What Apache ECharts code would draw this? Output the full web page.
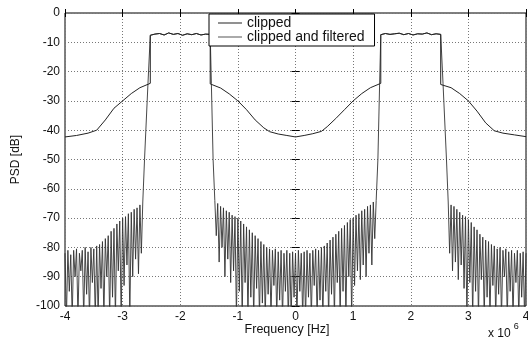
<!DOCTYPE html>
<html>
<head>
<meta charset="utf-8">
<script src="https://cdn.jsdelivr.net/npm/echarts@6/dist/echarts.min.js"></script>
<style>
  html, body { margin: 0; padding: 0; background: #fff; }
  #chart { width: 528px; height: 340px; }
</style>
</head>
<body>
<div id="chart"></div>
<script>
// tick labels
const xTicks = ['-4', '-3', '-2', '-1', '0', '1', '2', '3', '4'];
const yTicks = ['-100', '-90', '-80', '-70', '-60', '-50', '-40', '-30', '-20', '-10', '0'];

// in-band (shared by both curves), x in MHz, PSD in dB
const passLX = [-2.52, -2.44, -2.36, -2.28, -2.20, -2.12, -2.04, -1.96, -1.88, -1.80, -1.72, -1.64, -1.56, -1.48];
const passLY = [-7.6, -7.2, -7.0, -7.5, -6.8, -7.3, -7.0, -7.6, -7.1, -7.4, -7.0, -7.5, -7.2, -7.3];
const passRX = [1.48, 1.56, 1.64, 1.72, 1.80, 1.88, 1.96, 2.04, 2.12, 2.20, 2.28, 2.36, 2.44, 2.52];
const passRY = [-7.4, -7.0, -7.3, -7.1, -6.9, -7.4, -7.0, -7.5, -7.1, -7.2, -6.8, -7.4, -7.1, -7.3];

// clipped: out-of-band regrowth
const clipLX = [-4.0, -3.8, -3.6, -3.45, -3.3, -3.15, -3.0, -2.85, -2.7, -2.52];
const clipLY = [-42.3, -41.8, -41.0, -40.0, -36.5, -32.5, -30.0, -27.5, -25.5, -24.0];
const clipCX = [-1.48, -1.3, -1.15, -1.0, -0.85, -0.7, -0.55, -0.45, -0.3, -0.15, 0, 0.15, 0.3, 0.45, 0.55, 0.7, 0.85, 1.0, 1.15, 1.3, 1.48];
const clipCY = [-24.2, -25.6, -27.6, -30.0, -33.0, -36.5, -39.2, -40.5, -41.3, -41.8, -42.3, -41.8, -41.2, -40.4, -38.8, -36.0, -33.0, -30.0, -27.5, -25.5, -24.0];
const clipRX = [2.52, 2.7, 2.85, 3.0, 3.15, 3.3, 3.45, 3.6, 3.8, 4.0];
const clipRY = [-24.4, -25.5, -27.5, -30.0, -33.5, -37.5, -40.2, -41.0, -41.6, -42.2];

// clipped and filtered: skirts at the band edges
const skirtLLX = [-2.65, -2.62, -2.56];   const skirtLLY = [-64.5, -50, -24];
const skirtLRX = [-1.46, -1.43, -1.40];   const skirtLRY = [-24, -50, -64];
const skirtRLX = [1.40, 1.43, 1.46];      const skirtRLY = [-64, -50, -24];
const skirtRRX = [2.56, 2.62, 2.65];      const skirtRRY = [-24, -50, -64.5];

// clipped and filtered: residual noise, peaks every 0.05 MHz with nulls between
const noiseStep = 0.05;
const leftStart = -4.0;
const leftPeaks = [-82, -81, -82.5, -81, -80.5, -82, -81, -80, -81.5, -80, -80.5, -79.5, -79, -78, -77, -76, -74.5, -73.5, -72, -71, -70, -69.5, -68.5, -68, -67, -66.5, -65.5, -64.5];
const leftDips = [-104, -95, -104, -90, -104, -88, -104, -96, -104, -92, -104, -104, -94, -104, -90, -104, -97, -104, -88, -104, -93, -86, -104, -90, -84, -89, -82];
const centerStart = -1.40;
const centerPeaks = [-64, -65, -66, -66.5, -67.5, -68, -69, -69.5, -70, -71, -72, -73, -74, -75, -76, -77, -78, -79, -80, -80.5, -81, -80.5, -81.5, -81, -82, -81, -82, -81.5, -82, -81, -82, -81.5, -81, -82, -81, -80.5, -81, -80, -79.5, -78.5, -77.5, -76.5, -75.5, -74.5, -73.5, -72.5, -71.5, -70.5, -70, -69, -68.5, -67.5, -67, -66, -65.5, -64.5, -64];
const centerDips = [-76, -85, -80, -90, -84, -92, -88, -104, -95, -104, -92, -104, -97, -104, -94, -104, -99, -104, -96, -104, -93, -104, -98, -104, -95, -104, -104, -97, -104, -95, -104, -104, -97, -104, -93, -104, -98, -104, -95, -104, -96, -104, -92, -104, -95, -104, -90, -104, -93, -88, -91, -86, -90, -82, -86, -77];
const rightStart = 2.65;
const rightPeaks = [-64.5, -65.5, -66, -67, -68, -69, -69.5, -70.5, -71.5, -73, -74, -75.5, -76.5, -77.5, -78, -79, -79.5, -80.5, -80, -81, -80.5, -81.5, -81, -82, -81, -82, -81.5, -82];
const rightDips = [-82, -88, -85, -91, -86, -94, -104, -92, -104, -95, -104, -91, -104, -97, -104, -93, -104, -96, -104, -90, -104, -95, -104, -92, -104, -97, -104];

function pairs(xs, ys) {
    return xs.map((x, i) => [x, ys[i]]);
}
function noise(start, peaks, dips) {
    let out = [];
    peaks.forEach((p, i) => {
        let x = start + i * noiseStep;
        out.push([+x.toFixed(3), p]);
        if (i < dips.length) out.push([+(x + noiseStep / 2).toFixed(3), dips[i]]);
    });
    return out;
}

const clipped = [].concat(
    pairs(clipLX, clipLY), pairs(passLX, passLY),
    pairs(clipCX, clipCY), pairs(passRX, passRY),
    pairs(clipRX, clipRY)
);
const filtered = [].concat(
    noise(leftStart, leftPeaks, leftDips), pairs(skirtLLX, skirtLLY).slice(1),
    pairs(passLX, passLY), pairs(skirtLRX, skirtLRY).slice(0, 2),
    noise(centerStart, centerPeaks, centerDips), pairs(skirtRLX, skirtRLY).slice(1),
    pairs(passRX, passRY), pairs(skirtRRX, skirtRRY).slice(0, 2),
    noise(rightStart, rightPeaks, rightDips)
);

const font = 'Liberation Sans, Arial, sans-serif';
const chart = echarts.init(document.getElementById('chart'), null, { renderer: 'canvas' });
chart.setOption({
    animation: false,
    backgroundColor: '#fff',
    grid: {
        left: 65, right: 2, top: 13, bottom: 34,
        outerBoundsMode: 'none',
        containLabel: false,
        show: true, borderColor: '#000', borderWidth: 1
    },
    legend: {
        left: 209, top: 14,
        orient: 'vertical',
        backgroundColor: '#fff',
        borderColor: '#000', borderWidth: 1,
        padding: [2, 10, 2, 9],
        itemGap: 0,
        itemWidth: 24, itemHeight: 1,
        textStyle: { fontFamily: font, fontSize: 14, lineHeight: 14, color: '#111' },
        data: [
            { name: 'clipped', icon: 'rect' },
            { name: 'clipped and filtered', icon: 'rect' }
        ]
    },
    xAxis: [{
        type: 'value', min: -4, max: 4, interval: 1,
        axisLine: { show: false },
        axisTick: { inside: true, length: 4, lineStyle: { color: '#000' } },
        axisLabel: { margin: 5, fontFamily: font, fontSize: 12, color: '#111',
            formatter: (v) => xTicks[v + 4] },
        splitLine: { show: true, lineStyle: { color: '#777', type: [1, 2], width: 1 } }
    }, {
        type: 'value', min: -4, max: 4, interval: 1, position: 'top',
        axisLine: { show: false },
        axisTick: { inside: true, length: 4, lineStyle: { color: '#000' } },
        axisLabel: { show: false }, splitLine: { show: false }
    }],
    yAxis: [{
        type: 'value', min: -100, max: 0, interval: 10,
        name: 'PSD [dB]', nameLocation: 'middle', nameGap: 43,
        nameTextStyle: { fontFamily: font, fontSize: 12, color: '#111' },
        axisLine: { show: false },
        axisTick: { inside: true, length: 4, lineStyle: { color: '#000' } },
        axisLabel: { margin: 5, fontFamily: font, fontSize: 12, color: '#111',
            formatter: (v) => yTicks[(v + 100) / 10] },
        splitLine: { show: true, lineStyle: { color: '#777', type: [1, 2], width: 1 } }
    }, {
        type: 'value', min: -100, max: 0, interval: 10, position: 'right',
        axisLine: { show: false },
        axisTick: { inside: true, length: 4, lineStyle: { color: '#000' } },
        axisLabel: { show: false }, splitLine: { show: false }
    }],
    graphic: [{
        type: 'text', x: 287, y: 330,
        style: {
            text: 'Frequency [Hz]', align: 'center', verticalAlign: 'middle',
            fontFamily: font, fontSize: 12.5, fill: '#111'
        }
    }, {
        type: 'text', left: 488, top: 322,
        style: {
            text: '{a|x 10}{b|6}',
            rich: {
                a: { fontFamily: font, fontSize: 12, fill: '#111', verticalAlign: 'bottom', padding: [6, 0, 0, 0] },
                b: { fontFamily: font, fontSize: 9, fill: '#111', verticalAlign: 'top', padding: [0, 0, 6, 3] }
            }
        }
    }],
    series: [{
        name: 'clipped',
        type: 'line',
        data: clipped,
        symbol: 'none',
        clip: true,
        z: 3,
        color: '#222',
        lineStyle: { color: '#222', width: 1 }
    }, {
        name: 'clipped and filtered',
        type: 'line',
        data: filtered,
        symbol: 'none',
        clip: true,
        z: 2,
        color: '#555',
        lineStyle: { color: '#333', width: 0.9 }
    }]
});
</script>
</body>
</html>
